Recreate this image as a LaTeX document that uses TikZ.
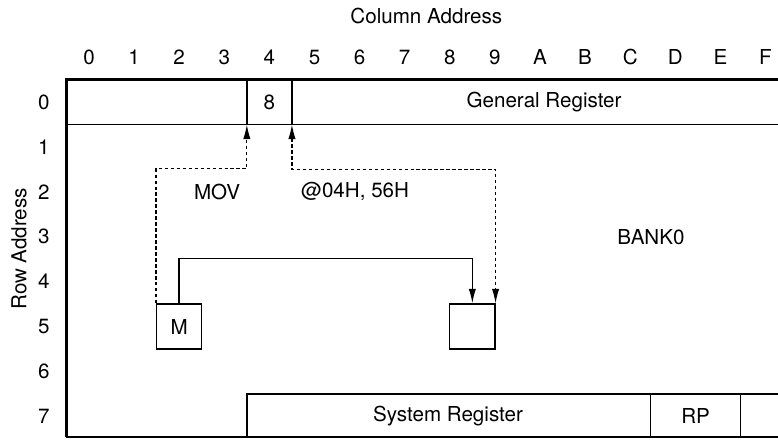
\documentclass[tikz,border=0pt]{standalone}
\usepackage{fontspec}
\setmainfont{TeX Gyre Heros}
\usetikzlibrary{positioning}
\usetikzlibrary{arrows.meta}
\tikzset{>={Latex[length=11pt,width=5.5pt]}}

\begin{document}
\begin{tikzpicture}[x=1.1933cm, y=1.188cm,
  every node/.style={font=\fontsize{15.5}{18}\selectfont},
  cellbox/.style={draw, line width=1pt, minimum width=1.1933cm,
    minimum height=1.188cm, inner sep=0pt},
  addr/.style={line width=0.9pt, dash pattern=on 2.5pt off 2pt},
  frame/.style={line width=2.2pt},
  rule/.style={line width=1.1pt}]

\useasboundingbox (-1.973,-7.506) rectangle (15.277,2.272);

% --- Address labels ---
\node (coltitle) at (7.48,1.915) {Column Address};
\node[rotate=90] (rowtitle) at (-1.55,-3.27) {Row Address};

\foreach \c [count=\i from 0] in {0,1,2,3,4,5,6,7,8,9,A,B,C,D,E,F}{
  \node (col\c) at (\i,1) {\c};
}
\foreach \r in {0,...,7}{
  \node (row\r) at (-1,-\r) {\r};
}

% --- Register file frame ---
\draw[frame] (15.277,0.5) -- (-0.5,0.5) -- (-0.5,-7.46);
\draw[line width=1.5pt] (-0.5,-7.46) -- (15.277,-7.46);
\draw[line width=1.3pt] (-0.5,-0.5) -- (15.277,-0.5);

% --- General register row ---
\coordinate (gr8w) at (3.5,-0.5);
\coordinate (gr8e) at (4.5,-0.5);
\draw[rule] (3.5,0.5) -- (gr8w);
\draw[rule] (4.5,0.5) -- (gr8e);
\node (reg8) at (4,0) {8};
\node (genreg) at (10.09,0) {General Register};

% --- System register row ---
\draw[rule] (15.277,-6.5) -- (3.5,-6.5) -- (3.5,-7.46);
\draw[rule] (12.45,-6.5) -- (12.45,-7.46);
\draw[rule] (14.45,-6.5) -- (14.45,-7.46);
\node (sysreg) at (7.96,-7) {System Register};
\node (rp) at (13.45,-7) {RP};

% --- Instruction and bank ---
\node (mov) at (2.84,-2) {MOV};
\node (operand) at (5.9,-2) {@04H, 56H};
\node (bank) at (12.46,-3) {BANK0};

% --- Source and destination cells ---
\node[cellbox] (src) at (2,-5) {M};
\node[cellbox] (dst) at (8.5,-5) {};

% --- Transfer paths ---
\draw[rule, ->] (src.north) -- ++(0,1) -| (dst.north);
\draw[addr, ->] (src.north west) -- ++(0,3) -| (gr8w);
\draw[addr, <->] (gr8e) -- ++(0,-1) -| (dst.north east);

\end{tikzpicture}
\end{document}
